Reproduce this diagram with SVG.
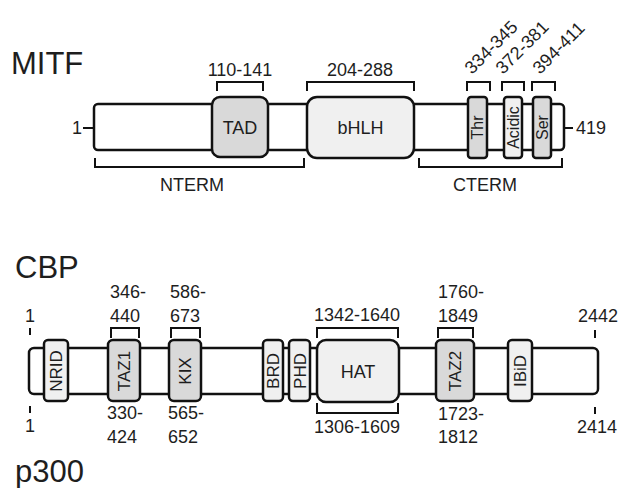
<svg xmlns="http://www.w3.org/2000/svg" width="618" height="488" viewBox="0 0 618 488">
<style>
text{font-family:"Liberation Sans",Arial,sans-serif;fill:#1e1e1e;}
.t{font-size:31px;}
.l{font-size:18px;}
.m{text-anchor:middle;}
.r16{font-size:16px;text-anchor:middle;}
.r17{font-size:17px;text-anchor:middle;}
.bar{fill:#fff;stroke:#111;stroke-width:2.5;}
.dk{fill:#d9d9d9;stroke:#111;stroke-width:2.5;}
.lt{fill:#f0f0f0;stroke:#111;stroke-width:2.5;}
.br{fill:none;stroke:#111;stroke-width:2;}
</style>
<rect width="618" height="488" fill="#fff"/>
<text class="t" x="11" y="74">MITF</text>
<text class="t" x="15" y="278">CBP</text>
<text class="t" x="15" y="482">p300</text>

<g id="connectors">
  <!-- MITF brackets and ticks -->
  <path class="br" d="M217 91V82H263V91"/>
  <path class="br" d="M307 91V82H414V91"/>
  <path class="br" d="M467 91V82H490V91"/>
  <path class="br" d="M502 91V82H524V91"/>
  <path class="br" d="M532 91V82H555V91"/>
  <path class="br" d="M95 158V167H304V158"/>
  <path class="br" d="M419 158V167H562V158"/>
  <path class="br" d="M83 128H94"/>
  <path class="br" d="M564 128H573"/>
  <!-- CBP / p300 brackets and ticks -->
  <path class="br" d="M111 338V328H139V338"/>
  <path class="br" d="M171 338V328H200V338"/>
  <path class="br" d="M317 338V328H398V338"/>
  <path class="br" d="M438 338V328H473V338"/>
  <path class="br" d="M317 403V413H398V403"/>
  <path class="br" d="M30 328V335M30 406V413"/>
  <path class="br" d="M595 330V338M595 407V414"/>
</g>

<g id="mitf">
  <rect class="bar" x="94" y="104" width="470" height="46" rx="4"/>
  <text class="l" x="72" y="134">1</text>
  <text class="l" x="576" y="134">419</text>
  <text class="l m" x="240" y="76">110-141</text>
  <text class="l m" x="360" y="76">204-288</text>
  <text class="l" x="472" y="75" transform="rotate(-45 472 75)">334-345</text>
  <text class="l" x="503" y="75" transform="rotate(-45 503 75)">372-381</text>
  <text class="l" x="540" y="75" transform="rotate(-45 540 75)">394-411</text>
  <text class="l m" x="192" y="191">NTERM</text>
  <text class="l m" x="485" y="191">CTERM</text>
</g>
<g id="mitf-tad">
  <rect class="dk" x="212" y="97" width="56" height="60" rx="8"/>
  <text class="l m" x="240" y="134">TAD</text>
</g>
<g id="mitf-bhlh">
  <rect class="lt" x="307" y="97" width="107" height="61" rx="10"/>
  <text class="l m" x="360.5" y="134">bHLH</text>
</g>
<g id="mitf-thr">
  <rect class="dk" x="468" y="97" width="19" height="61" rx="3"/>
  <text class="r16" x="477.5" y="133" transform="rotate(-90 477.5 127.5)">Thr</text>
</g>
<g id="mitf-acidic">
  <rect class="lt" x="504" y="97" width="18" height="61" rx="3"/>
  <text class="r16" x="513" y="133" transform="rotate(-90 513 127.5)">Acidic</text>
</g>
<g id="mitf-ser">
  <rect class="dk" x="533" y="97" width="18" height="61" rx="3"/>
  <text class="r16" x="542" y="133" transform="rotate(-90 542 127.5)">Ser</text>
</g>

<g id="cbp">
  <rect class="bar" x="29" y="348" width="569" height="46" rx="5"/>
  <text class="l m" x="30" y="322">1</text>
  <text class="l m" x="30" y="432">1</text>
  <text class="l" x="578" y="322">2442</text>
  <text class="l" x="577" y="433">2414</text>
  <text class="l" x="110" y="298">346-</text>
  <text class="l" x="110" y="322">440</text>
  <text class="l" x="170" y="298">586-</text>
  <text class="l" x="170" y="322">673</text>
  <text class="l" x="107" y="419">330-</text>
  <text class="l" x="107" y="443">424</text>
  <text class="l" x="168" y="419">565-</text>
  <text class="l" x="168" y="443">652</text>
  <text class="l m" x="357" y="321">1342-1640</text>
  <text class="l m" x="357" y="433">1306-1609</text>
  <text class="l" x="438" y="298">1760-</text>
  <text class="l" x="438" y="322">1849</text>
  <text class="l" x="438" y="420">1723-</text>
  <text class="l" x="438" y="443">1812</text>
</g>
<g id="cbp-nrid">
  <rect class="lt" x="44" y="340" width="24" height="61" rx="4"/>
  <text class="r17" x="56" y="377" transform="rotate(-90 56 371)">NRID</text>
</g>
<g id="cbp-taz1">
  <rect class="dk" x="108" y="340" width="32" height="61" rx="5"/>
  <text class="r17" x="124" y="377" transform="rotate(-90 124 371)">TAZ1</text>
</g>
<g id="cbp-kix">
  <rect class="dk" x="169" y="340" width="32" height="61" rx="5"/>
  <text class="r17" x="185" y="377" transform="rotate(-90 185 371)">KIX</text>
</g>
<g id="cbp-brd">
  <rect class="lt" x="263" y="340" width="20" height="61" rx="4"/>
  <text class="r17" x="273" y="377" transform="rotate(-90 273 371)">BRD</text>
</g>
<g id="cbp-phd">
  <rect class="lt" x="289" y="340" width="21" height="61" rx="4"/>
  <text class="r17" x="299.5" y="377" transform="rotate(-90 299.5 371)">PHD</text>
</g>
<g id="cbp-hat">
  <rect class="lt" x="317" y="340" width="82" height="62" rx="9"/>
  <text class="l m" x="358" y="377.5">HAT</text>
</g>
<g id="cbp-taz2">
  <rect class="dk" x="436" y="340" width="38" height="61" rx="5"/>
  <text class="r17" x="455" y="377" transform="rotate(-90 455 371)">TAZ2</text>
</g>
<g id="cbp-ibid">
  <rect class="lt" x="508" y="340" width="24" height="61" rx="4"/>
  <text class="r17" x="520" y="377" transform="rotate(-90 520 371)">IBiD</text>
</g>
</svg>
